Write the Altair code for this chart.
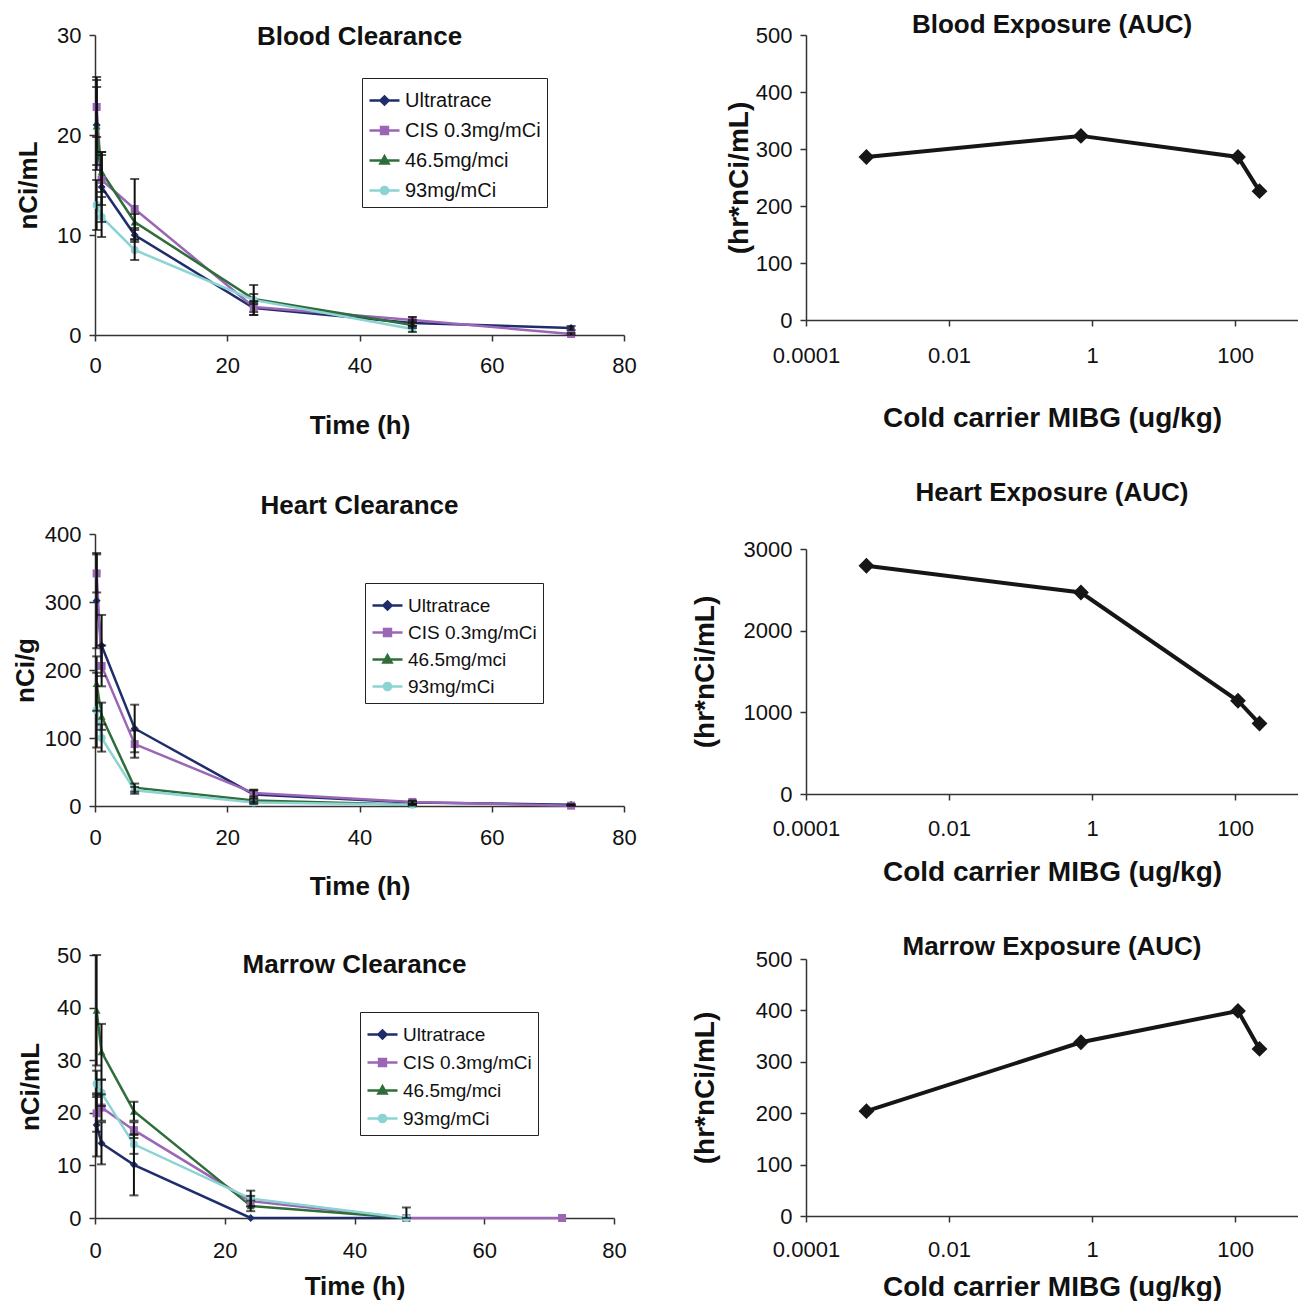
import altair as alt
import pandas as pd

FONT = "Liberation Sans"

# ---------------- data ----------------
series = ["Ultratrace", "CIS 0.3mg/mCi", "46.5mg/mci", "93mg/mCi"]
colors = ["#1f2d6b", "#9a66b5", "#2f6e3b", "#8cd3d3"]
shapes = ["diamond", "square", "triangle-up", "circle"]
times = [0.25, 1, 6, 24, 48, 72]

# Blood clearance (nCi/mL): values / symmetric error per series
blood_values = [
    [21.0, 14.8, 10.0, 2.7, 1.2, 0.7],
    [22.8, 15.5, 12.6, 2.8, 1.5, 0.1],
    [20.9, 16.3, 11.3, 3.6, 1.0],
    [13.0, 11.8, 8.5, 3.5, 0.6],
]
blood_errors = [
    [4.5, 3.5, 0.7, 0.7, 0.3, 0.2],
    [3.0, 2.5, 3.0, 0.5, 0.3, 0.1],
    [3.9, 2.0, 0.8, 0.5, 0.3],
    [2.5, 2.0, 1.0, 1.5, 0.3],
]

# Heart clearance (nCi/g)
heart_values = [
    [302, 236, 114, 17, 5, 2],
    [342, 206, 91, 19, 6, 0.5],
    [180, 132, 27, 8, 2],
    [141, 100, 23, 5, 2],
]
heart_errors = [
    [70, 45, 35, 6, 2, 1],
    [28, 30, 20, 5, 2, 1],
    [40, 20, 6, 3, 1],
    [55, 20, 5, 2, 1],
]

# Marrow clearance (nCi/mL)
marrow_values = [
    [17.7, 14.2, 10.1, 0.0, 0.0],
    [19.9, 21.0, 16.7, 3.2, 0.0, 0.0],
    [39.5, 31.6, 20.3, 2.3, 0.0],
    [25.5, 23.8, 14.0, 3.7, 0.0],
]
marrow_errors = [
    [6.0, 4.0, 5.8, 0.0, 0.0],
    [3.5, 2.5, 1.5, 1.0, 0.0, 0.0],
    [10.5, 5.3, 1.8, 1.0, 2.0],
    [2.5, 2.5, 1.8, 1.5, 0.0],
]

# Exposure (AUC) vs cold carrier MIBG dose (ug/kg)
carrier_dose = [0.0007, 0.7, 110, 220]
blood_auc = [286, 323, 286, 226]
heart_auc = [2795, 2467, 1142, 863]
marrow_auc = [204, 338, 399, 325]

# ---------------- legend symbols (line + marker) ----------------
legend_paths = [
    "M-1,0H1M-0.27,0L0,-0.27L0.27,0L0,0.27Z",
    "M-1,0H1M-0.23,-0.23H0.23V0.23H-0.23Z",
    "M-1,0H1M0,-0.28L0.27,0.2H-0.27Z",
    "M-1,0H1M-0.24,0A0.24,0.24,0,1,0,0.24,0A0.24,0.24,0,1,0,-0.24,0Z",
]

IND = dict(fill="independent", stroke="independent", shape="independent")


def make_legend(lx, ly, fs, rp):
    return alt.Legend(
        orient="none", legendX=lx, legendY=ly, title=None,
        strokeColor="#222", fillColor="white", padding=6,
        labelFont=FONT, labelFontSize=fs, labelColor="#111", labelOffset=4,
        symbolSize=900, symbolStrokeWidth=2.5, symbolOpacity=1,
        rowPadding=rp, labelLimit=300,
    )


def build_df(values, errors):
    rows = []
    for s, vals, errs in zip(series, values, errors):
        for t, v, e in zip(times, vals, errs):
            rows.append({"time": t, "series": s, "value": v, "err": e,
                         "lo": max(v - e, 0), "hi": v + e})
    return pd.DataFrame(rows)


def clearance(title, values, errors, ymax, ystep, ytitle, w, h,
              ytp, xlp, xtp, lx, ly, lfs, rp):
    df = build_df(values, errors)
    base = alt.Chart(df)
    xs = alt.Scale(domain=[0, 80], nice=False)
    ys = alt.Scale(domain=[0, ymax], nice=False)
    xax = alt.Axis(values=[0, 20, 40, 60, 80], title="Time (h)", labelPadding=xlp,
                   titlePadding=xtp, labelFlush=False)
    yax = alt.Axis(values=list(range(0, ymax + 1, ystep)), title=ytitle,
                   titlePadding=ytp, labelPadding=8)
    layers = []
    for i, (s, c) in enumerate(zip(series, colors)):
        sub = base.transform_filter(f"datum.series === '{s}'")
        if i == 0:
            enc = dict(x=alt.X("time:Q", scale=xs, axis=xax),
                       y=alt.Y("value:Q", scale=ys, axis=yax))
        else:
            enc = dict(x="time:Q", y="value:Q")
        layers.append(sub.mark_line(strokeWidth=2.5, color=c).encode(order="time:Q", **enc))
    for s, c, shp in zip(series, colors, shapes):
        sub = base.transform_filter(f"datum.series === '{s}'")
        layers.append(sub.mark_point(filled=True, size=64, opacity=1, shape=shp,
                                     color=c).encode(x="time:Q", y="value:Q"))
    eb = base.transform_filter("datum.err > 0")
    layers.append(eb.mark_rule(color="#111", strokeWidth=2).encode(
        x="time:Q", y="lo:Q", y2="hi:Q"))
    layers.append(eb.mark_tick(color="#111", orient="horizontal", size=9,
                               thickness=2).encode(x="time:Q", y="lo:Q"))
    layers.append(eb.mark_tick(color="#111", orient="horizontal", size=9,
                               thickness=2).encode(x="time:Q", y="hi:Q"))
    L = make_legend(lx, ly, lfs, rp)
    layers.append(base.mark_point(filled=True, opacity=1).encode(
        x="time:Q", y="value:Q",
        fill=alt.Fill("series:N", scale=alt.Scale(domain=series, range=colors),
                      sort=series, legend=L),
        stroke=alt.Stroke("series:N", scale=alt.Scale(domain=series, range=colors),
                          sort=series, legend=L),
        shape=alt.Shape("series:N", scale=alt.Scale(domain=series, range=legend_paths),
                        sort=series, legend=L),
        size=alt.value(0),
    ))
    return alt.layer(*layers).properties(width=w, height=h, title=title)


def exposure(title, auc, ymax, ystep, w, h, ytp, xlp, xtp):
    df = pd.DataFrame({"dose": carrier_dose, "auc": auc})
    base = alt.Chart(df)
    x = alt.X("dose:Q", scale=alt.Scale(type="log", domain=[0.0001, 760], nice=False),
              axis=alt.Axis(values=[0.0001, 0.01, 1, 100], format="~g",
                            title="Cold carrier MIBG (ug/kg)", labelPadding=xlp,
                            titlePadding=xtp, labelFlush=False, labelOverlap=False,
                            titleFontSize=28))
    y = alt.Y("auc:Q", scale=alt.Scale(domain=[0, ymax], nice=False),
              axis=alt.Axis(values=list(range(0, ymax + 1, ystep)), format="d",
                            title="(hr*nCi/mL)", titlePadding=ytp, labelPadding=8,
                            titleFontSize=28))
    line = base.mark_line(color="#161616", strokeWidth=4).encode(x=x, y=y)
    pts = base.mark_point(shape="diamond", filled=True, size=250, color="#161616",
                          opacity=1).encode(x="dose:Q", y="auc:Q")
    return alt.layer(line, pts).properties(width=w, height=h, title=title)


blood_l = clearance(alt.TitleParams("Blood Clearance", offset=-26),
                    blood_values, blood_errors, 30, 10,
                    "nCi/mL", 529, 300, 15, 14, 36, 267, 43, 20, 3)
heart_l = clearance(alt.TitleParams(["", "Heart Clearance"], offset=4, lineHeight=10),
                    heart_values, heart_errors, 400, 100,
                    "nCi/g", 529, 272, 6, 15, 25, 270, 49, 19, 0)
marrow_l = clearance(alt.TitleParams("Marrow Clearance", offset=-34),
                     marrow_values, marrow_errors, 50, 10,
                     "nCi/mL", 519, 263, 13, 16, 12, 265, 57, 19, 1)

blood_r = exposure(alt.TitleParams("Blood Exposure (AUC)", offset=-14),
                   blood_auc, 500, 100, 492, 285, 2, 19, 38)
heart_r = exposure(alt.TitleParams("Heart Exposure (AUC)", offset=32),
                   heart_auc, 3000, 1000, 492, 245, 24, 18, 19)
marrow_r = exposure(alt.TitleParams("Marrow Exposure (AUC)", offset=-12),
                    marrow_auc, 500, 100, 492, 257, 36, 17, 13)

left = alt.vconcat(blood_l, heart_l, marrow_l, spacing=45).resolve_scale(**IND)
right = alt.vconcat(blood_r, heart_r, marrow_r, spacing=48)

chart = alt.hconcat(left, right, spacing=54).resolve_scale(**IND).properties(
    padding={"left": 4, "top": 4, "right": 0, "bottom": 0}
).configure_view(stroke=None).configure_axis(
    grid=False,
    domainColor="#333", domainWidth=1.5,
    tickColor="#333", tickWidth=1.5, tickSize=6,
    labelFont=FONT, labelFontSize=22, labelColor="#111",
    titleFont=FONT, titleFontSize=26, titleFontWeight="bold", titleColor="#111",
).configure_title(
    font=FONT, fontSize=26, fontWeight="bold", color="#111", anchor="middle"
)

chart.save("out.html", embed_options={"renderer": "svg", "actions": False})
